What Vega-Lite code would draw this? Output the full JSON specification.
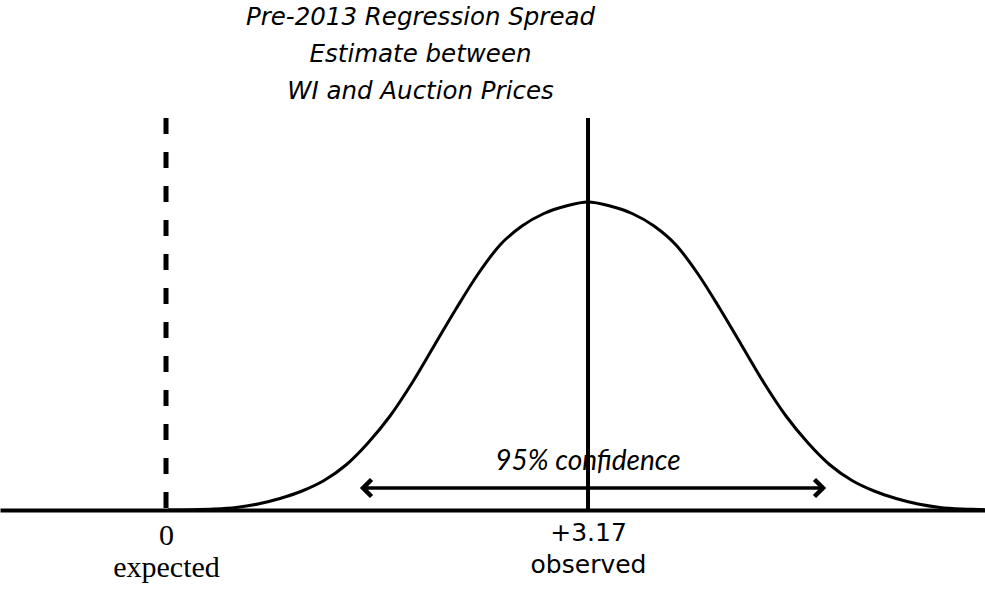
{
  "$schema": "https://vega.github.io/schema/vega-lite/v6.json",
  "autosize": {"type": "none"},
  "padding": {"left": 0, "right": 0, "top": 110, "bottom": 80},
  "width": 985,
  "height": 400,
  "background": "white",
  "config": {"view": {"stroke": null}},
  "title": {
    "text": ["Pre-2013 Regression Spread", "Estimate between", "WI and Auction Prices"],
    "anchor": "middle",
    "frame": "group",
    "dx": -72,
    "offset": 6,
    "font": "DejaVu Sans",
    "fontStyle": "italic",
    "fontWeight": "normal",
    "fontSize": 24.5,
    "lineHeight": 37,
    "color": "black"
  },
  "datasets": {
    "curve": [
      {"x": 0.015, "density": 0.0},
      {"x": 0.195, "density": 0.0003},
      {"x": 0.36, "density": 0.001},
      {"x": 0.526, "density": 0.0026},
      {"x": 0.691, "density": 0.006},
      {"x": 0.856, "density": 0.0115},
      {"x": 1.022, "density": 0.019},
      {"x": 1.187, "density": 0.0295},
      {"x": 1.352, "density": 0.045},
      {"x": 1.517, "density": 0.067},
      {"x": 1.683, "density": 0.094},
      {"x": 1.848, "density": 0.127},
      {"x": 2.013, "density": 0.164},
      {"x": 2.178, "density": 0.201},
      {"x": 2.344, "density": 0.236},
      {"x": 2.509, "density": 0.265},
      {"x": 2.674, "density": 0.284},
      {"x": 2.839, "density": 0.2965},
      {"x": 3.005, "density": 0.304},
      {"x": 3.17, "density": 0.308},
      {"x": 3.335, "density": 0.304},
      {"x": 3.501, "density": 0.2965},
      {"x": 3.666, "density": 0.284},
      {"x": 3.831, "density": 0.265},
      {"x": 3.996, "density": 0.236},
      {"x": 4.162, "density": 0.201},
      {"x": 4.327, "density": 0.164},
      {"x": 4.492, "density": 0.127},
      {"x": 4.657, "density": 0.094},
      {"x": 4.823, "density": 0.067},
      {"x": 4.988, "density": 0.045},
      {"x": 5.153, "density": 0.0295},
      {"x": 5.319, "density": 0.019},
      {"x": 5.484, "density": 0.0115},
      {"x": 5.649, "density": 0.006},
      {"x": 5.814, "density": 0.0026},
      {"x": 5.98, "density": 0.001},
      {"x": 6.145, "density": 0.0003},
      {"x": 6.152, "density": 0.0}
    ],
    "markers": [
      {"x": 0, "y": 0, "y2": 0.392, "kind": "expected"},
      {"x": 3.17, "y": 0, "y2": 0.392, "kind": "observed"}
    ],
    "interval": [
      {"lo": 1.48, "hi": 4.935, "y": 0.022, "label": "95% confidence", "mid": 3.17, "ty": 0.04}
    ]
  },
  "layer": [
    {
      "data": {"name": "curve"},
      "mark": {"type": "line", "color": "black", "strokeWidth": 3, "interpolate": "monotone"},
      "encoding": {
        "x": {
          "field": "x", "type": "quantitative",
          "scale": {"domain": [-1.247, 6.152], "nice": false, "zero": false},
          "axis": {
            "values": [0, 3.17],
            "title": null,
            "grid": false,
            "ticks": false,
            "domain": true,
            "domainColor": "black",
            "domainWidth": 4,
            "labelExpr": "datum.value == 0 ? ['0', 'expected'] : ['+3.17', 'observed']",
            "labelFont": {"condition": {"test": "datum.value == 0", "value": "Liberation Serif"}, "value": "DejaVu Sans"},
            "labelFontSize": {"condition": {"test": "datum.value == 0", "value": 30}, "value": 25},
            "labelColor": "black",
            "labelBaseline": "top",
            "labelPadding": 10,
            "labelLineHeight": 32,
            "labelOverlap": false,
            "labelFlush": false
          }
        },
        "y": {
          "field": "density", "type": "quantitative",
          "scale": {"domain": [0, 0.4], "nice": false},
          "axis": null
        }
      }
    },
    {
      "data": {"name": "markers"},
      "transform": [{"filter": "datum.kind == 'expected'"}],
      "mark": {"type": "rule", "color": "black", "strokeWidth": 5, "strokeDash": [16, 18]},
      "encoding": {
        "x": {"field": "x", "type": "quantitative"},
        "y": {"field": "y2", "type": "quantitative"},
        "y2": {"field": "y"}
      }
    },
    {
      "data": {"name": "markers"},
      "transform": [{"filter": "datum.kind == 'observed'"}],
      "mark": {"type": "rule", "color": "black", "strokeWidth": 4},
      "encoding": {
        "x": {"field": "x", "type": "quantitative"},
        "y": {"field": "y2", "type": "quantitative"},
        "y2": {"field": "y"}
      }
    },
    {
      "data": {"name": "interval"},
      "mark": {"type": "rule", "color": "black", "strokeWidth": 3.5},
      "encoding": {
        "x": {"field": "lo", "type": "quantitative"},
        "x2": {"field": "hi"},
        "y": {"field": "y", "type": "quantitative"}
      }
    },
    {
      "data": {"name": "interval"},
      "mark": {"type": "point", "shape": "M1,-1L0,0L1,1", "filled": false, "stroke": "black", "strokeWidth": 4.5, "size": 290, "opacity": 1},
      "encoding": {
        "x": {"field": "lo", "type": "quantitative"},
        "y": {"field": "y", "type": "quantitative"}
      }
    },
    {
      "data": {"name": "interval"},
      "mark": {"type": "point", "shape": "M-1,-1L0,0L-1,1", "filled": false, "stroke": "black", "strokeWidth": 4.5, "size": 290, "opacity": 1},
      "encoding": {
        "x": {"field": "hi", "type": "quantitative"},
        "y": {"field": "y", "type": "quantitative"}
      }
    },
    {
      "data": {"name": "interval"},
      "mark": {"type": "text", "font": "Lato", "fontStyle": "italic", "fontSize": 28, "color": "black", "baseline": "alphabetic", "align": "center"},
      "encoding": {
        "x": {"field": "mid", "type": "quantitative"},
        "y": {"field": "ty", "type": "quantitative"},
        "text": {"field": "label"}
      }
    }
  ]
}
